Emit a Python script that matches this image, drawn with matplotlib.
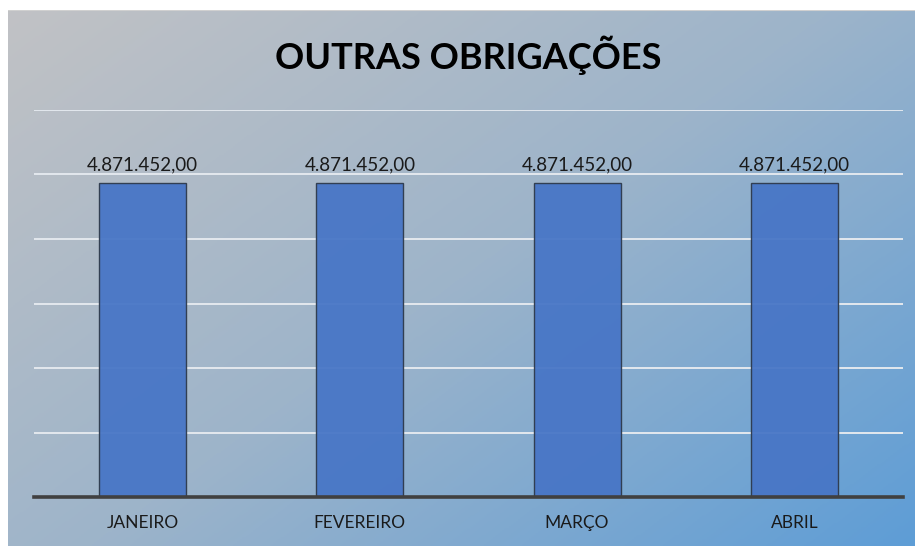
import matplotlib.pyplot as plt
import numpy as np
from matplotlib.colors import LinearSegmentedColormap

# dados
meses = ["JANEIRO", "FEVEREIRO", "MARÇO", "ABRIL"]
valores = [4871452.00, 4871452.00, 4871452.00, 4871452.00]
titulo = "OUTRAS OBRIGAÇÕES"


def formata_br(v):
    s = f"{v:,.2f}"
    return s.replace(",", "X").replace(".", ",").replace("X", ".")


W, H = 915, 546
fig = plt.figure(figsize=(W / 100, H / 100), dpi=100)
fig.patch.set_facecolor("white")

# fundo com gradiente diagonal (cinza -> azul)
bg = fig.add_axes([8 / W, 0, 1 - 8 / W, 536 / H])
bg.set_axis_off()
u = np.linspace(0, 1, 400)
v = np.linspace(0, 1, 300)
U, V = np.meshgrid(u, v)
grad = (U * 0.55 + V * 0.45)
cmap = LinearSegmentedColormap.from_list(
    "fundo", ["#c1c2c5", "#9db4ca", "#5e9dd6"])
bg.imshow(grad, cmap=cmap, aspect="auto", extent=[0, 1, 0, 1],
          origin="upper", vmin=0, vmax=1)
bg.plot([0, 1], [1, 1], color="#d0d0d0", lw=1.5, transform=bg.transAxes)

# grafico
ax = fig.add_axes([34 / W, (H - 497) / H, (903 - 34) / W, (497 - 110) / H])
ax.patch.set_alpha(0)
x = np.arange(len(meses))
ax.set_ylim(0, 6000000)
ax.set_xlim(-0.5, len(meses) - 0.5)
ax.set_yticks(np.arange(1000000, 6000001, 1000000))
ax.yaxis.grid(True, color="#e3e8ee", linewidth=1.4)
ax.set_axisbelow(True)

barras = ax.bar(x, valores, width=0.4, color="#4876c6", edgecolor="#2e3a4c",
                linewidth=1.0, alpha=0.95, zorder=2)

for xi, val in zip(x, valores):
    ax.annotate(formata_br(val), (xi, val), xytext=(0, 7),
                textcoords="offset points", ha="center", va="bottom",
                fontsize=13.5, color="#1a1a1a", family="Lato")

ax.set_xticks(x)
ax.set_xticklabels(meses, fontsize=12.5, color="#1a1a1a", family="Lato")
ax.tick_params(axis="x", length=0, pad=13)
ax.tick_params(axis="y", length=0, labelleft=False)
for s in ["top", "right", "left"]:
    ax.spines[s].set_visible(False)
ax.spines["bottom"].set_color("#404040")
ax.spines["bottom"].set_linewidth(2.6)
ax.spines["bottom"].set_zorder(3)

fig.text(468 / W, 1 - 55 / H, titulo, ha="center", va="center",
         fontsize=26, fontweight="bold", color="black", family="Lato")

fig.savefig("out.png", dpi=100)
